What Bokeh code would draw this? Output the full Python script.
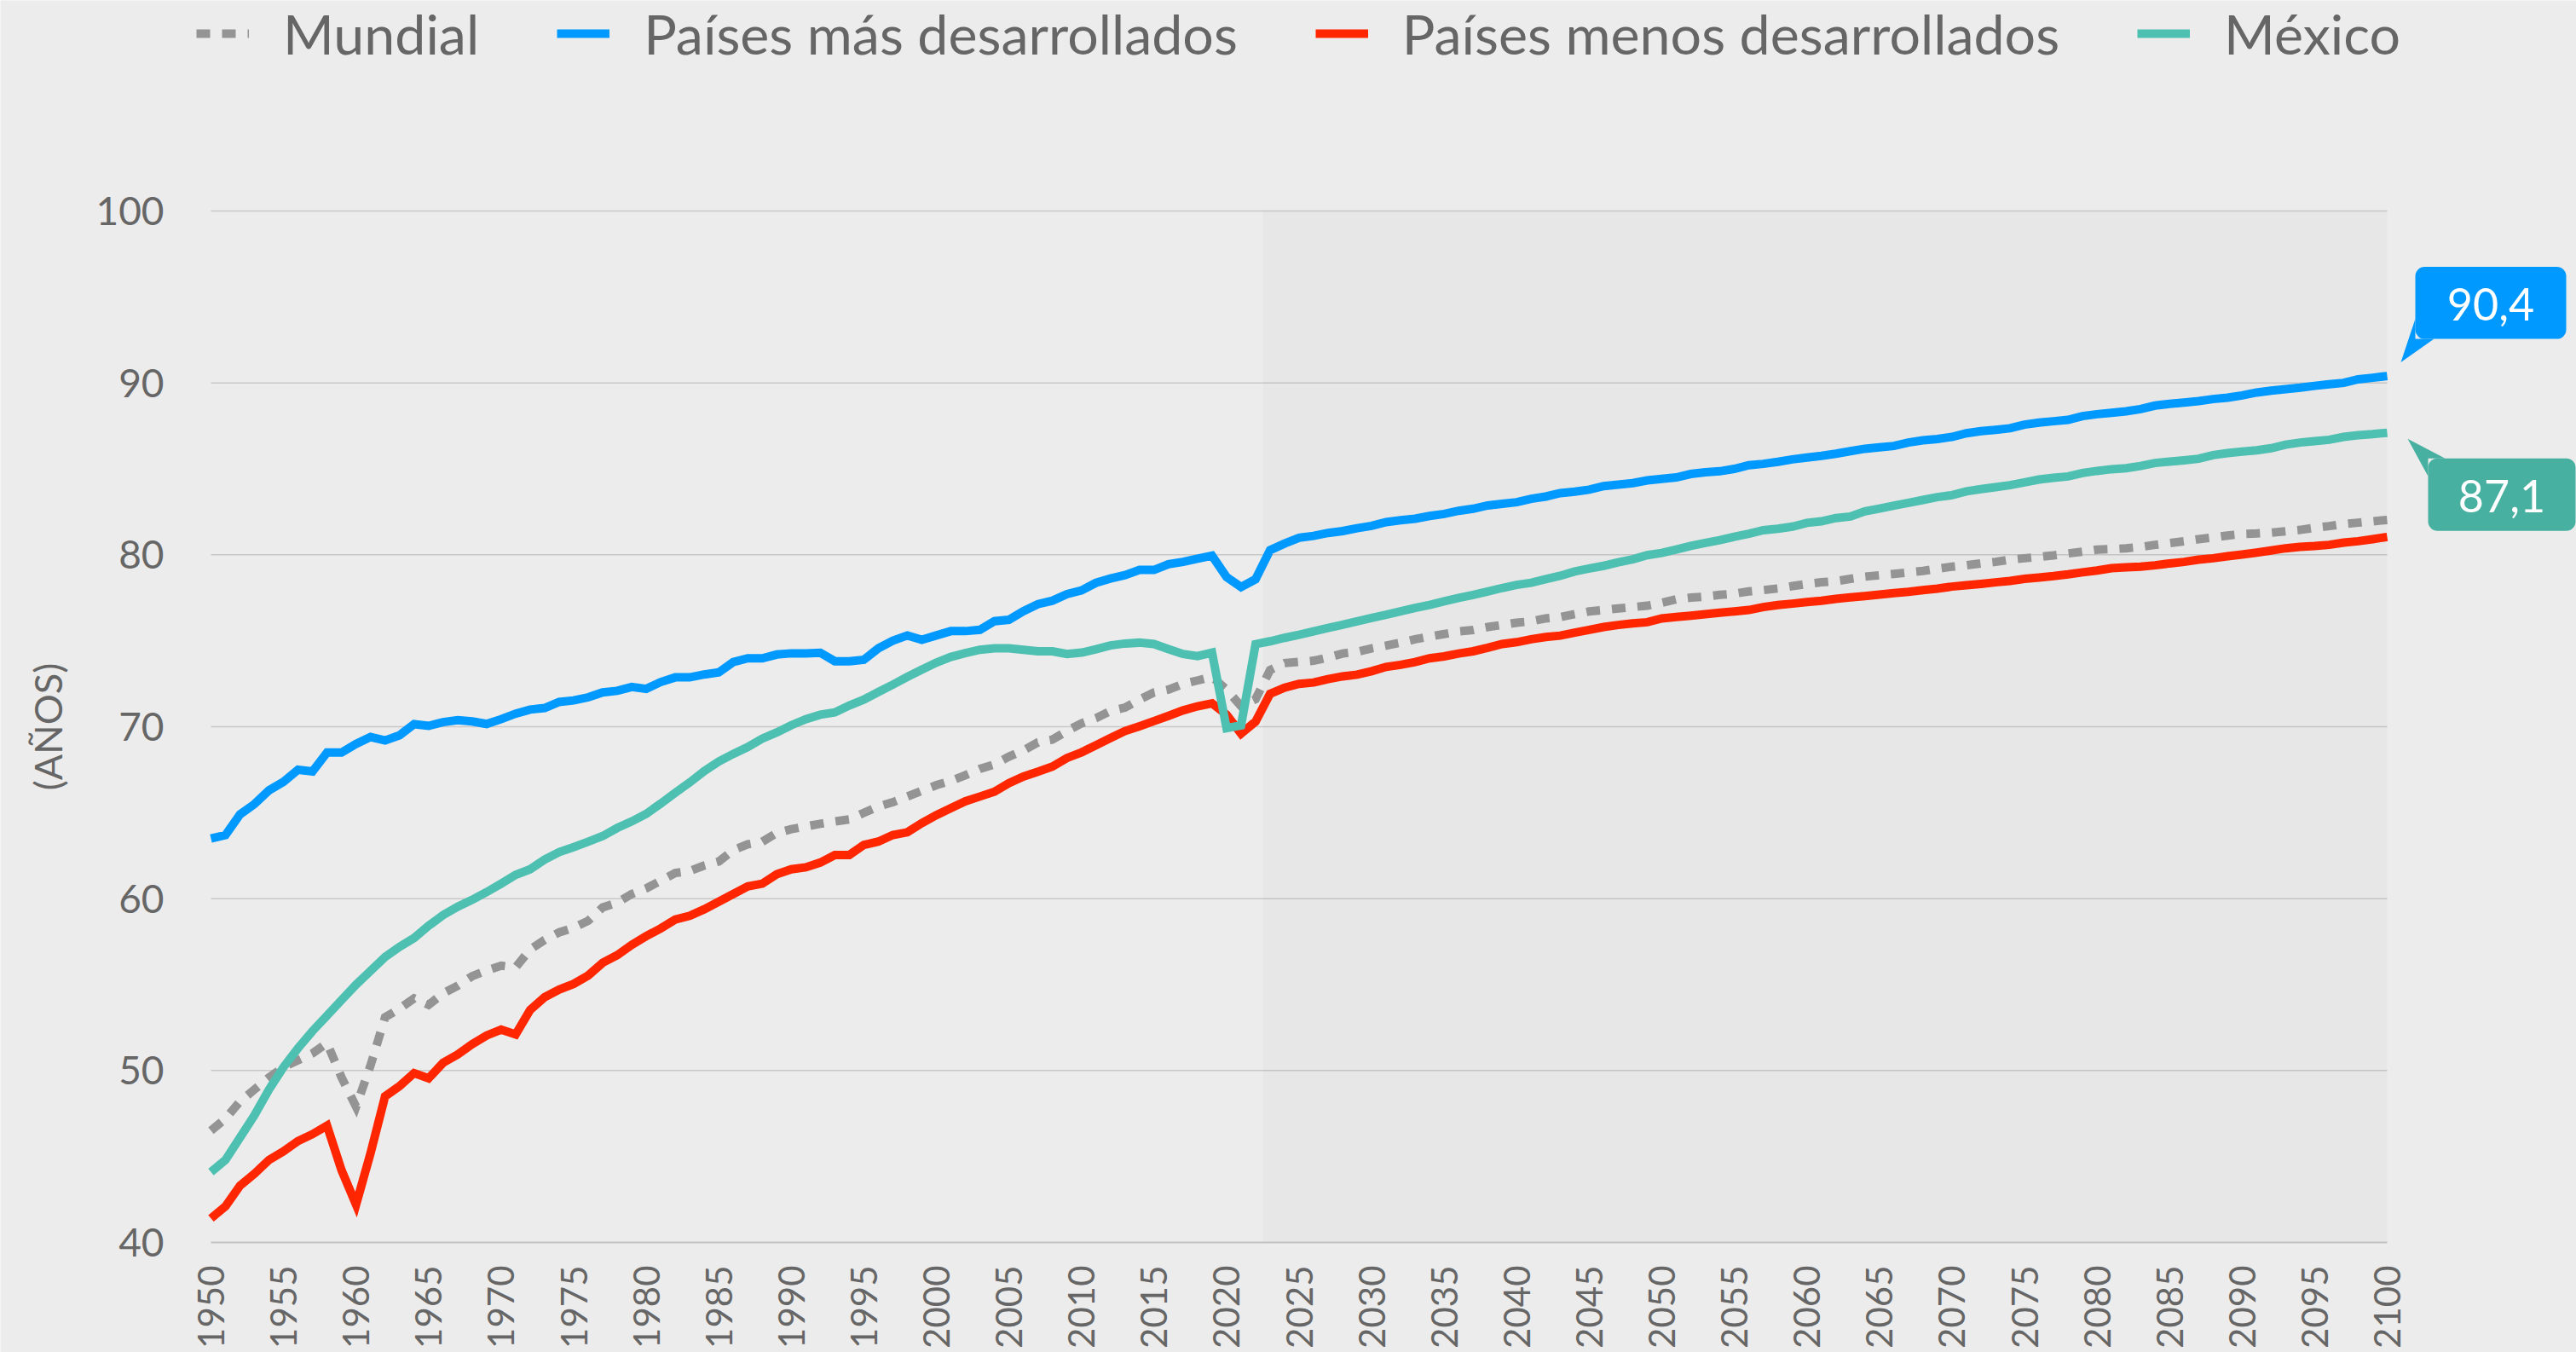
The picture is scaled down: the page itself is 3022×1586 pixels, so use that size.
from bokeh.plotting import figure
from bokeh.models import Range1d, FixedTicker, BoxAnnotation, Legend, LegendItem, Label
from bokeh.embed import file_html
from bokeh.resources import INLINE
import math

# ---------------- data ----------------
years = list(range(1950, 2101))

mundial = [
    46.5, 47.2, 48.2, 48.9, 49.6, 50.2, 50.6, 51.0, 51.6, 49.6,
    47.9, 50.3, 53.1, 53.6, 54.2, 53.82, 54.49, 54.93, 55.49, 55.82,
    56.1, 56.0, 57.04, 57.6, 58.04, 58.31, 58.71, 59.49, 59.76, 60.27,
    60.6, 61.04, 61.49, 61.6, 61.93, 62.16, 62.82, 63.16, 63.31, 63.82,
    64.04, 64.2, 64.35, 64.49, 64.61, 64.99, 65.36, 65.61, 65.94, 66.27,
    66.6, 66.85, 67.18, 67.55, 67.81, 68.26, 68.62, 69.09, 69.25, 69.75,
    70.2, 70.5, 70.91, 71.11, 71.58, 71.99, 72.16, 72.49, 72.69, 72.9,
    72.16, 71.2, 71.6, 73.3, 73.7, 73.77, 73.84, 74.03, 74.26, 74.36,
    74.56, 74.72, 74.89, 75.09, 75.25, 75.39, 75.55, 75.63, 75.8, 75.92,
    76.05, 76.13, 76.3, 76.38, 76.55, 76.71, 76.79, 76.88, 76.96, 77.04,
    77.21, 77.41, 77.51, 77.57, 77.67, 77.74, 77.87, 77.95, 78.04, 78.18,
    78.3, 78.4, 78.47, 78.6, 78.73, 78.81, 78.89, 78.98, 79.06, 79.19,
    79.31, 79.39, 79.5, 79.59, 79.72, 79.8, 79.88, 79.97, 80.08, 80.18,
    80.3, 80.33, 80.38, 80.46, 80.58, 80.68, 80.79, 80.91, 81.01, 81.12,
    81.21, 81.24, 81.29, 81.37, 81.45, 81.57, 81.67, 81.79, 81.87, 81.95,
    82.03,
]

mas_desarrollados = [
    63.5, 63.7, 64.9, 65.5, 66.3, 66.8, 67.5, 67.4, 68.5, 68.5,
    69.0, 69.4, 69.2, 69.5, 70.15, 70.05, 70.27, 70.38, 70.31, 70.16,
    70.44, 70.76, 71.0, 71.09, 71.44, 71.53, 71.71, 72.0, 72.09, 72.31,
    72.2, 72.6, 72.87, 72.87, 73.04, 73.16, 73.76, 73.98, 73.98, 74.2,
    74.27, 74.27, 74.3, 73.81, 73.81, 73.9, 74.56, 75.0, 75.31, 75.06,
    75.31, 75.56, 75.56, 75.64, 76.14, 76.22, 76.72, 77.13, 77.33, 77.71,
    77.93, 78.37, 78.62, 78.82, 79.12, 79.12, 79.45, 79.59, 79.78, 79.95,
    78.71, 78.13, 78.58, 80.27, 80.65, 80.99, 81.1, 81.27, 81.38, 81.55,
    81.68, 81.9, 82.01, 82.1, 82.26, 82.38, 82.56, 82.68, 82.87, 82.97,
    83.06, 83.26, 83.39, 83.59, 83.67, 83.79, 84.0, 84.08, 84.17, 84.33,
    84.42, 84.5, 84.7, 84.8, 84.86, 85.0, 85.21, 85.29, 85.41, 85.55,
    85.66, 85.76, 85.88, 86.03, 86.17, 86.25, 86.33, 86.53, 86.66, 86.74,
    86.86, 87.07, 87.19, 87.27, 87.36, 87.57, 87.69, 87.77, 87.85, 88.07,
    88.18, 88.26, 88.35, 88.48, 88.68, 88.78, 88.86, 88.94, 89.06, 89.14,
    89.27, 89.44, 89.55, 89.64, 89.72, 89.83, 89.92, 90.0, 90.21, 90.3,
    90.4,
]

menos_desarrollados = [
    41.4, 42.1, 43.3, 44.0, 44.8, 45.3, 45.9, 46.3, 46.8, 44.2,
    42.2, 45.2, 48.5, 49.1, 49.85, 49.55, 50.45, 50.93, 51.53, 52.04,
    52.38, 52.1, 53.53, 54.27, 54.71, 55.04, 55.53, 56.27, 56.71, 57.31,
    57.82, 58.27, 58.78, 59.0, 59.38, 59.82, 60.27, 60.71, 60.87, 61.42,
    61.71, 61.82, 62.1, 62.54, 62.54, 63.12, 63.32, 63.7, 63.86, 64.39,
    64.86, 65.27, 65.66, 65.94, 66.22, 66.72, 67.1, 67.38, 67.68, 68.18,
    68.51, 68.92, 69.34, 69.75, 70.03, 70.33, 70.63, 70.95, 71.19, 71.36,
    70.7, 69.6, 70.3, 71.91, 72.27, 72.49, 72.57, 72.77, 72.93, 73.03,
    73.23, 73.48, 73.6, 73.76, 73.98, 74.09, 74.26, 74.39, 74.59, 74.81,
    74.92, 75.09, 75.22, 75.3, 75.47, 75.63, 75.8, 75.92, 76.01, 76.08,
    76.3, 76.38, 76.46, 76.55, 76.63, 76.71, 76.79, 76.96, 77.08, 77.16,
    77.25, 77.33, 77.44, 77.52, 77.6, 77.69, 77.77, 77.85, 77.95, 78.03,
    78.15, 78.23, 78.31, 78.4, 78.48, 78.6, 78.68, 78.76, 78.86, 78.98,
    79.09, 79.22, 79.27, 79.31, 79.39, 79.5, 79.59, 79.72, 79.8, 79.92,
    80.02, 80.13, 80.25, 80.38, 80.46, 80.51, 80.58, 80.71, 80.79, 80.91,
    81.04,
]

mexico = [
    44.1, 44.8, 46.1, 47.4, 48.9, 50.2, 51.3, 52.3, 53.2, 54.1,
    55.0, 55.8, 56.6, 57.2, 57.71, 58.42, 59.04, 59.53, 59.93, 60.38,
    60.87, 61.38, 61.71, 62.27, 62.71, 63.0, 63.31, 63.64, 64.11, 64.49,
    64.93, 65.53, 66.16, 66.76, 67.42, 67.98, 68.42, 68.82, 69.31, 69.67,
    70.09, 70.44, 70.7, 70.83, 71.24, 71.58, 72.02, 72.45, 72.9, 73.32,
    73.73, 74.06, 74.28, 74.48, 74.56, 74.56, 74.48, 74.39, 74.39, 74.23,
    74.31, 74.51, 74.73, 74.84, 74.89, 74.81, 74.51, 74.23, 74.11, 74.31,
    69.92, 70.08, 74.8, 74.97, 75.17, 75.35, 75.55, 75.75, 75.93, 76.13,
    76.33, 76.51, 76.71, 76.91, 77.09, 77.29, 77.49, 77.67, 77.87, 78.07,
    78.25, 78.37, 78.58, 78.78, 79.03, 79.2, 79.36, 79.56, 79.74, 79.98,
    80.11, 80.31, 80.52, 80.69, 80.85, 81.05, 81.23, 81.43, 81.52, 81.64,
    81.86, 81.95, 82.14, 82.23, 82.53, 82.69, 82.86, 83.02, 83.19, 83.36,
    83.47, 83.69, 83.82, 83.93, 84.05, 84.21, 84.38, 84.48, 84.56, 84.76,
    84.88, 84.98, 85.04, 85.17, 85.34, 85.42, 85.5, 85.59, 85.8, 85.92,
    86.0, 86.08, 86.2, 86.41, 86.53, 86.61, 86.69, 86.86, 86.96, 87.02,
    87.1,
]

series_names = ["Mundial", "Países más desarrollados", "Países menos desarrollados", "México"]
y_ticks = [40, 50, 60, 70, 80, 90, 100]
x_ticks = list(range(1950, 2101, 5))
forecast_start = 2022.5
y_axis_title = "(AÑOS)"
callout_texts = {"mas": "90,4", "mex": "87,1"}

# ---------------- layout constants ----------------
W, H = 3022, 1586
AXIS_X = 247           # pixel position of the y axis (year 1950)
AXIS_Y = 1457          # pixel position of the x axis (value 40), from top
PX_PER_YEAR = 2553.0 / 150
PX_PER_UNIT = 1210.0 / 60
X0 = x_ticks[0] - AXIS_X / PX_PER_YEAR
X1 = X0 + W / PX_PER_YEAR
Y0 = y_ticks[0] - (H - AXIS_Y) / PX_PER_UNIT
Y1 = Y0 + H / PX_PER_UNIT
XPX = 1 / PX_PER_YEAR   # data units per pixel
YPX = 1 / PX_PER_UNIT

BG = "#ececec"
TXT = "#666666"
C_MUN = "#949494"
C_MAS = "#0099ff"
C_MEN = "#ff2600"
C_MEX = "#4ec0b1"
C_MEX_BOX = "#48b0a0"
FONT = "Lato"

p = figure(width=W, height=H, x_range=Range1d(X0, X1), y_range=Range1d(Y0, Y1),
           min_border_left=0, min_border_right=0, min_border_top=0, min_border_bottom=0,
           background_fill_color=BG, border_fill_color=BG, outline_line_color=None,
           output_backend="svg", toolbar_location=None)

p.xgrid.visible = False
p.ygrid.visible = False

# forecast shading
shade = BoxAnnotation(left=forecast_start, right=x_ticks[-1], bottom=y_ticks[0], top=y_ticks[-1],
                      fill_color="#000000", fill_alpha=0.02, line_color=None, level="underlay")
p.add_layout(shade)

# gridlines spanning the data years only
gv = y_ticks[1:]
g = p.segment(x0=[x_ticks[0]] * len(gv), x1=[x_ticks[-1]] * len(gv), y0=gv, y1=gv,
              line_color="#c8c8c8", line_width=1.5)
g.level = "underlay"

# axes (placed at fixed data locations)
xa = p.xaxis[0]
xa.fixed_location = y_ticks[0]
xa.ticker = FixedTicker(ticks=x_ticks)
xa.bounds = (x_ticks[0], x_ticks[-1])
xa.axis_line_color = "#c2c2c2"
xa.axis_line_width = 2
xa.major_tick_line_color = None
xa.minor_tick_line_color = None
xa.major_label_orientation = math.pi / 2
xa.major_label_standoff = 21
xa.major_label_text_font = FONT
xa.major_label_text_font_size = "42px"
xa.major_label_text_color = TXT

ya = p.yaxis[0]
ya.fixed_location = x_ticks[0]
ya.ticker = FixedTicker(ticks=y_ticks)
ya.axis_line_color = None
ya.major_tick_line_color = None
ya.minor_tick_line_color = None
ya.major_label_standoff = 49
ya.major_label_text_font = FONT
ya.major_label_text_font_size = "46px"
ya.major_label_text_color = TXT

# y axis title
p.add_layout(Label(x=x_ticks[0], y=(y_ticks[0] + y_ticks[-1]) / 2, x_offset=-192,
                   text=y_axis_title, angle=math.pi / 2, text_align="center",
                   text_baseline="middle", text_font=FONT, text_font_size="45px",
                   text_color=TXT))

# series
LW = 10
r_mun = p.line(years, mundial, line_color=C_MUN, line_width=LW, line_dash="16 14", line_join="miter")
r_mas = p.line(years, mas_desarrollados, line_color=C_MAS, line_width=LW, line_join="miter")
r_men = p.line(years, menos_desarrollados, line_color=C_MEN, line_width=LW, line_join="miter")
r_mex = p.line(years, mexico, line_color=C_MEX, line_width=LW, line_join="miter")

# legend (location measured from the bottom-left of the frame)
legend = Legend(items=[LegendItem(label=n, renderers=[r]) for n, r in
                       zip(series_names, [r_mun, r_mas, r_men, r_mex])],
                orientation="horizontal", location=(230, H - 78),
                padding=0, margin=0, spacing=91, glyph_width=62, glyph_height=76,
                label_height=76, label_standoff=40,
                label_text_font=FONT, label_text_font_size="64.5px", label_text_color=TXT,
                background_fill_alpha=0, border_line_color=None)
p.add_layout(legend, "center")


def callout(xv, yv, color, text, box, tip_poly, text_off):
    # box: (left, right, top, bottom) in px offsets from the point (up positive)
    l, r, t, b = box
    p.patch([xv + dx * XPX for dx, dy in tip_poly], [yv + dy * YPX for dx, dy in tip_poly],
            fill_color=color, line_color=None)
    p.add_layout(BoxAnnotation(left=xv + l * XPX, right=xv + r * XPX,
                               top=yv + t * YPX, bottom=yv + b * YPX,
                               fill_color=color, fill_alpha=1, line_color=None,
                               border_radius=11))
    p.add_layout(Label(x=xv, y=yv, x_offset=text_off[0], y_offset=text_off[1], text=text,
                       text_align="center", text_baseline="middle",
                       text_font=FONT, text_font_size="52px", text_color="#ffffff"))


callout(years[-1], mas_desarrollados[-1], C_MAS, callout_texts["mas"],
        (33, 210, 128, 43.5), [(16, 16), (33, 67), (33, 43.5), (55, 43.5)], (121.5, 84))
callout(years[-1], mexico[-1], C_MEX_BOX, callout_texts["mex"],
        (48, 221, -30, -115), [(24, -7), (68, -30), (48, -30), (48, -51)], (134.5, -74))

open("out.html", "w").write(file_html(p, INLINE))
